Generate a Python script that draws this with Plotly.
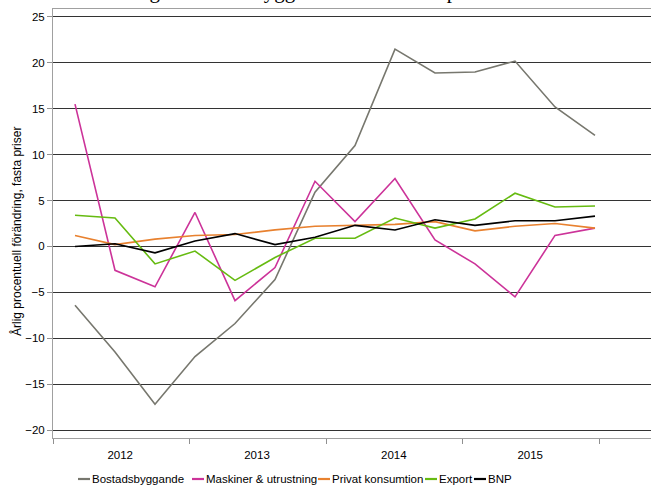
import plotly.graph_objects as go

# ---- data ----
kvartal = ["2012K1", "2012K2", "2012K3", "2012K4", "2013K1", "2013K2", "2013K3",
           "2013K4", "2014K1", "2014K2", "2014K3", "2014K4", "2015K1", "2015K2"]
bostadsbyggande = [-6.4, -11.5, -17.2, -12.0, -8.4, -3.6, 5.9, 11.0, 21.5, 18.9, 19.0, 20.2, 15.2, 12.1]
maskiner = [15.5, -2.6, -4.4, 3.7, -5.9, -2.3, 7.1, 2.7, 7.4, 0.7, -1.9, -5.5, 1.2, 2.0]
privat_konsumtion = [1.2, 0.2, 0.8, 1.2, 1.3, 1.8, 2.2, 2.3, 2.4, 2.7, 1.7, 2.2, 2.5, 2.0]
export = [3.4, 3.1, -1.9, -0.5, -3.7, -1.2, 0.9, 0.9, 3.1, 2.0, 3.0, 5.8, 4.3, 4.4]
bnp = [0.0, 0.3, -0.7, 0.6, 1.4, 0.2, 1.0, 2.3, 1.8, 2.9, 2.3, 2.8, 2.8, 3.3]

series_names = ["Bostadsbyggande", "Maskiner & utrustning", "Privat konsumtion", "Export", "BNP"]
series_values = [bostadsbyggande, maskiner, privat_konsumtion, export, bnp]
series_colors = ["#77776e", "#cc3399", "#e8812f", "#66bb11", "#000000"]

year_labels = ["2012", "2013", "2014", "2015"]
year_label_pos = [1.13, 4.55, 7.97, 11.38]

y_title = "Årlig procentuell förändring, fasta priser"
chart_title = "Stark ökning av bostadsbyggandet – sämre för privat konsumtion"

# ---- layout constants (pixels) ----
W, H = 651, 487
L, R, T, B = 53, 0, 9, 49
PW, PH = W - L - R, H - T - B

def px_x(px):
    return (px - L) / PW

def px_y(py):
    return (H - B - py) / PH

x = list(range(len(kvartal)))

fig = go.Figure()
for name, vals, col in zip(series_names, series_values, series_colors):
    fig.add_trace(go.Scatter(x=x, y=vals, name=name, mode="lines",
                             line=dict(color=col, width=1.6),
                             text=kvartal, hovertemplate="%{text}: %{y}<extra>" + name + "</extra>"))

sans = "Liberation Sans, Arial, sans-serif"

fig.update_layout(
    width=W, height=H,
    margin=dict(l=L, r=R, t=T, b=B),
    paper_bgcolor="white", plot_bgcolor="white",
    showlegend=False,
    font=dict(family=sans, size=11.5, color="#000000"),
    xaxis=dict(
        range=[-0.55, 14.4],
        tickvals=year_label_pos, ticktext=year_labels,
        ticks="outside", ticklen=6, tickcolor="rgba(0,0,0,0)",
        tickfont=dict(family=sans, size=11.5, color="#000000"),
        showgrid=False, zeroline=False,
        showline=True, linecolor="#a0a0a0", linewidth=1, mirror=True,
        minor=dict(ticks="outside", tick0=-0.55, dtick=3.415, ticklen=5,
                   tickcolor="#909090", showgrid=False),
    ),
    yaxis=dict(
        range=[-20.87, 25.87],
        tickvals=[-20, -15, -10, -5, 0, 5, 10, 15, 20, 25],
        ticks="outside", ticklen=5, tickcolor="#909090",
        tickfont=dict(family=sans, size=11.5, color="#000000"),
        showgrid=True, gridcolor="#333333", gridwidth=1,
        zeroline=False,
        showline=True, linecolor="#a0a0a0", linewidth=1,
    ),
)

annotations = []
# y-axis title
annotations.append(dict(text=y_title, textangle=-90, xref="paper", yref="paper",
                        x=px_x(16), y=px_y(232), xanchor="center", yanchor="middle",
                        showarrow=False, font=dict(family=sans, size=12, color="#000000")))
# clipped title at the very top (only the descenders remain visible, as in the original)
annotations.append(dict(text=chart_title, xref="paper", yref="paper",
                        x=px_x(50), y=px_y(5), xanchor="left", yanchor="bottom",
                        showarrow=False,
                        font=dict(family="Liberation Serif, Times New Roman, serif", size=21, color="#000000")))

# manual legend (compact, as in the original)
legend_line_start = [78, 192, 318, 425, 474]
legend_y = 479
shapes = []
for name, col, lx in zip(series_names, series_colors, legend_line_start):
    shapes.append(dict(type="line", xref="paper", yref="paper",
                       x0=px_x(lx), x1=px_x(lx + 12), y0=px_y(legend_y), y1=px_y(legend_y),
                       line=dict(color=col, width=2.2)))
    annotations.append(dict(text=name, xref="paper", yref="paper",
                            x=px_x(lx + 12), y=px_y(legend_y), xanchor="left", yanchor="middle",
                            showarrow=False, font=dict(family=sans, size=11.5, color="#000000")))

fig.update_layout(annotations=annotations, shapes=shapes)

fig.write_html("out.html", config={"displayModeBar": False},
               post_script="document.body.style.margin='0px';")
